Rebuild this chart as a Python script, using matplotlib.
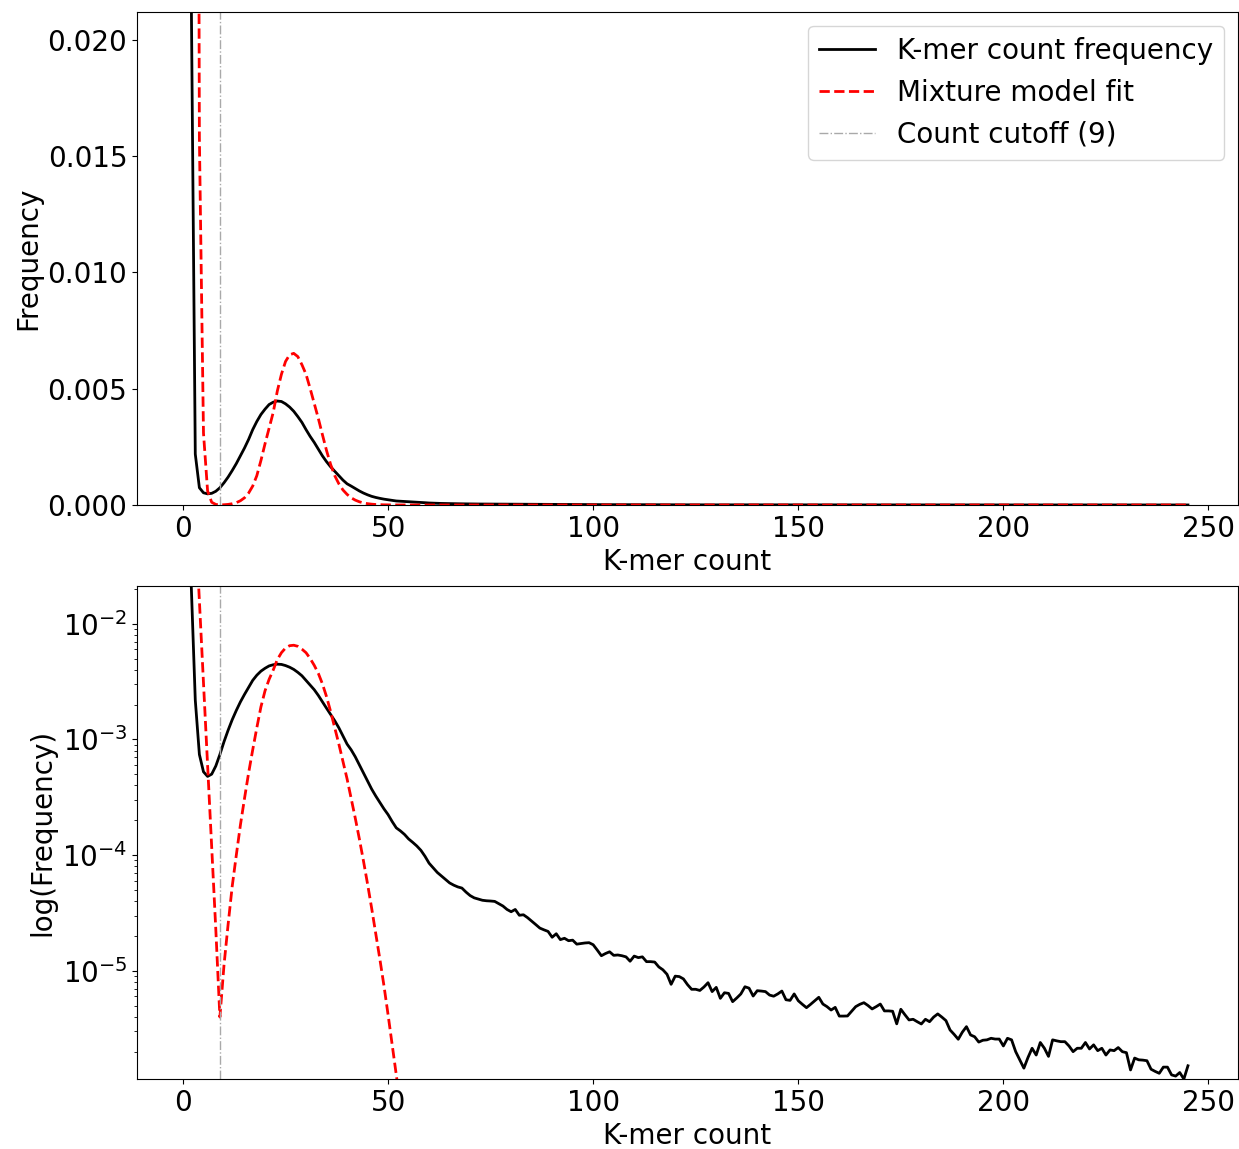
import numpy as np
import matplotlib
matplotlib.use('Agg')
import matplotlib.pyplot as plt

# K-mer counts 1..245
counts = np.arange(1, 246)

freq = [
    0.55, 0.0224, 2.19e-3, 7.41e-4, 5.25e-4, 4.79e-4, 5.01e-4, 5.89e-4, 7.41e-4, 9.55e-4,
    1.20e-3, 1.48e-3, 1.78e-3, 2.11e-3, 2.45e-3, 2.82e-3, 3.24e-3, 3.59e-3, 3.89e-3, 4.12e-3,
    4.32e-3, 4.42e-3, 4.47e-3, 4.45e-3, 4.35e-3, 4.21e-3, 4.03e-3, 3.80e-3, 3.55e-3, 3.24e-3,
    2.95e-3, 2.69e-3, 2.40e-3, 2.11e-3, 1.86e-3, 1.64e-3, 1.45e-3, 1.26e-3, 1.07e-3, 9.12e-4,
    8.13e-4, 7.08e-4, 6.03e-4, 5.13e-4, 4.37e-4, 3.72e-4, 3.24e-4, 2.85e-4, 2.51e-4, 2.24e-4,
    1.95e-4, 1.72e-4, 1.62e-4, 1.51e-4, 1.38e-4, 1.29e-4, 1.20e-4, 1.10e-4, 9.77e-5, 8.51e-5,
    7.76e-5, 7.08e-5, 6.61e-5, 6.17e-5, 5.75e-5, 5.50e-5, 5.31e-5, 5.19e-5, 4.79e-5, 4.47e-5,
    4.27e-5, 4.17e-5, 4.07e-5, 4.03e-5, 4.01e-5, 3.98e-5, 3.80e-5, 3.63e-5, 3.39e-5, 3.24e-5,
    3.39e-5, 3.02e-5, 3.05e-5, 2.88e-5, 2.69e-5, 2.51e-5, 2.34e-5, 2.26e-5, 2.19e-5, 1.95e-5,
    2.09e-5, 1.86e-5, 1.91e-5, 1.82e-5, 1.84e-5, 1.70e-5, 1.72e-5, 1.74e-5, 1.75e-5, 1.68e-5,
    1.51e-5, 1.35e-5, 1.41e-5, 1.46e-5, 1.36e-5, 1.37e-5, 1.35e-5, 1.32e-5, 1.21e-5, 1.34e-5,
    1.30e-5, 1.32e-5, 1.20e-5, 1.20e-5, 1.19e-5, 1.08e-5, 1.02e-5, 9.33e-6, 7.64e-6, 8.99e-6,
    8.91e-6, 8.51e-6, 7.59e-6, 6.92e-6, 6.92e-6, 6.76e-6, 7.24e-6, 7.89e-6, 6.61e-6, 7.19e-6,
    5.78e-6, 6.46e-6, 6.38e-6, 5.41e-6, 5.82e-6, 6.31e-6, 7.28e-6, 7.08e-6, 6.05e-6, 6.73e-6,
    6.68e-6, 6.61e-6, 6.17e-6, 6.03e-6, 6.31e-6, 6.68e-6, 5.62e-6, 5.55e-6, 6.31e-6, 5.51e-6,
    5.13e-6, 4.80e-6, 5.13e-6, 5.50e-6, 5.90e-6, 5.16e-6, 4.90e-6, 4.58e-6, 4.83e-6, 4.06e-6,
    4.06e-6, 4.07e-6, 4.47e-6, 4.90e-6, 5.13e-6, 5.30e-6, 5.01e-6, 4.68e-6, 4.90e-6, 5.16e-6,
    4.50e-6, 4.50e-6, 4.47e-6, 3.48e-6, 4.65e-6, 4.17e-6, 3.76e-6, 3.81e-6, 3.63e-6, 3.47e-6,
    3.81e-6, 3.63e-6, 3.98e-6, 4.24e-6, 3.98e-6, 3.71e-6, 3.08e-6, 2.82e-6, 2.56e-6, 2.95e-6,
    3.29e-6, 2.79e-6, 2.69e-6, 2.42e-6, 2.51e-6, 2.53e-6, 2.61e-6, 2.57e-6, 2.57e-6, 2.24e-6,
    2.61e-6, 2.53e-6, 2.00e-6, 1.70e-6, 1.44e-6, 1.78e-6, 2.14e-6, 1.87e-6, 2.40e-6, 2.14e-6,
    1.82e-6, 2.53e-6, 2.48e-6, 2.44e-6, 2.44e-6, 2.24e-6, 2.00e-6, 2.14e-6, 2.14e-6, 2.40e-6,
    2.11e-6, 2.29e-6, 2.04e-6, 2.14e-6, 1.87e-6, 2.07e-6, 2.04e-6, 2.17e-6, 2.00e-6, 1.96e-6,
    1.39e-6, 1.76e-6, 1.70e-6, 1.69e-6, 1.67e-6, 1.41e-6, 1.35e-6, 1.30e-6, 1.47e-6, 1.47e-6,
    1.26e-6, 1.23e-6, 1.32e-6, 1.16e-6, 1.51e-6,
]

# Mixture model fit (counts 1..55, then flat at zero)
fit_head = [
    0.9, 0.38, 0.081, 0.0158, 3.09e-3, 6.03e-4, 1.17e-4, 2.29e-5, 3.98e-6, 1.12e-5,
    2.51e-5, 5.37e-5, 1.00e-4, 1.82e-4, 3.09e-4, 5.13e-4, 8.13e-4, 1.26e-3, 1.91e-3, 2.63e-3,
    3.31e-3, 3.98e-3, 4.90e-3, 5.62e-3, 6.17e-3, 6.46e-3, 6.52e-3, 6.38e-3, 6.03e-3, 5.62e-3,
    5.01e-3, 4.37e-3, 3.72e-3, 3.02e-3, 2.34e-3, 1.74e-3, 1.26e-3, 9.12e-4, 6.46e-4, 4.57e-4,
    3.09e-4, 2.09e-4, 1.38e-4, 8.91e-5, 5.62e-5, 3.47e-5, 2.09e-5, 1.26e-5, 7.41e-6, 4.17e-6,
    2.29e-6, 1.26e-6, 6.76e-7, 3.55e-7, 1.82e-7,
]
fit_tail = [0.0] * (len(counts) - len(fit_head))
fit = fit_head + fit_tail

cutoff = 9
y_top = 0.0212
y_log_bottom = 1.16e-6

plt.rcParams['font.size'] = 20

fig = plt.figure(figsize=(12.39, 11.49), dpi=100)
ax1 = fig.add_axes([0.1106, 0.5605, 0.8886, 0.4291])
ax2 = fig.add_axes([0.1106, 0.0609, 0.8886, 0.4291])

# Linear frequency
ax1.plot(counts, freq, c='black', lw=2, label='K-mer count frequency')
ax1.plot(counts, fit, c='red', ls='--', lw=2, label='Mixture model fit')
ax1.axvline(cutoff, c='darkgray', ls='-.', lw=1, label='Count cutoff (%d)' % cutoff)
ax1.set_ylim(0, y_top)
ax1.set_xlabel('K-mer count')
ax1.set_ylabel('Frequency')
ax1.legend(loc='upper right')

# Log frequency
ax2.plot(counts, freq, c='black', lw=2)
ax2.plot(counts, fit, c='red', ls='--', lw=2)
ax2.axvline(cutoff, c='darkgray', ls='-.', lw=1)
ax2.set_yscale('log')
ax2.set_ylim(y_log_bottom, y_top)
ax2.set_xlabel('K-mer count')
ax2.set_ylabel('log(Frequency)')

fig.savefig('out.png', dpi=100)
